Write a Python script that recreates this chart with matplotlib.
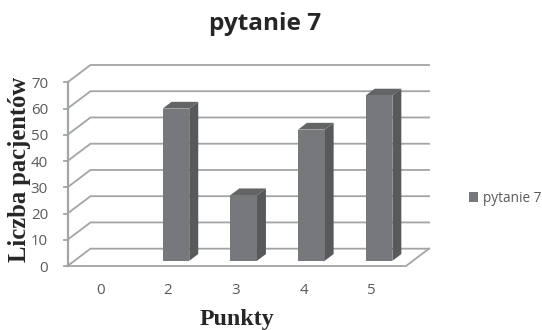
import matplotlib
matplotlib.use("Agg")
import matplotlib.pyplot as plt
from matplotlib.patches import Polygon
from matplotlib.transforms import ScaledTranslation

categories = ["0", "2", "3", "4", "5"]
values = [0, 58, 25, 50, 63]
y_ticks = [0, 10, 20, 30, 40, 50, 60, 70]
series_name = "pytanie 7"

W, H = 542, 330
FRONT = "#77787b"
SIDE = "#58595b"
TOP = "#636466"
GRID = "#a3a4a6"
TEXT = "#595959"

fig = plt.figure(figsize=(W / 100, H / 100), dpi=100)
ax = fig.add_axes([67.5 / W, 1 - 266 / H, (406 - 67.5) / W, (266 - 82.3) / H])
ax.set_xlim(-0.5, 4.5)
ax.set_ylim(0, 70)
ax.patch.set_visible(False)

# oblique projection of the depth direction, in data units
DX, DY = 0.34, 6.6
bar_w = 0.393
d0, d1 = 0.30, 0.69

x0, x1 = -0.5, 4.5
for t in y_ticks:
    ax.plot([x0, x0 + DX, x1 + DX], [t, t + DY, t + DY], color=GRID, lw=1.3,
            clip_on=False, zorder=1, solid_joinstyle="miter")
    ax.plot([x0 - 0.045, x0], [t, t], color=GRID, lw=1.3, clip_on=False, zorder=1)
ax.plot([x0, x1, x1 + DX], [0, 0, DY], color=GRID, lw=1.3, clip_on=False, zorder=2)
ax.plot([x0, x0], [0, 70], color=GRID, lw=1.6, clip_on=False, zorder=2)

for s in ax.spines.values():
    s.set_visible(False)

xs = list(range(len(categories)))
bars = ax.bar([x + d0 * DX for x in xs], values, width=bar_w,
              bottom=d0 * DY, color=FRONT, label=series_name, zorder=4, clip_on=False)
for b, v in zip(bars, values):
    if v == 0:
        continue
    l, r = b.get_x(), b.get_x() + b.get_width()
    base, top = b.get_y(), b.get_y() + b.get_height()
    ddx, ddy = (d1 - d0) * DX, (d1 - d0) * DY
    ax.add_patch(Polygon([(r, base), (r + ddx, base + ddy), (r + ddx, top + ddy), (r, top)],
                         closed=True, fc=SIDE, ec="none", zorder=3, clip_on=False))
    ax.add_patch(Polygon([(l, top), (l + ddx, top + ddy), (r + ddx, top + ddy), (r, top)],
                         closed=True, fc=TOP, ec="none", zorder=3, clip_on=False))

ax.set_xticks(xs, categories)
ax.set_yticks(y_ticks)
ax.tick_params(axis="both", length=0, labelsize=10.8, labelcolor=TEXT)
ax.tick_params(axis="x", pad=12)
ax.tick_params(axis="y", pad=14)
shift = ScaledTranslation(-1 / 100, 0, fig.dpi_scale_trans)
for lab in ax.get_xticklabels():
    lab.set_fontfamily("Open Sans")
    lab.set_transform(lab.get_transform() + shift)
for lab in ax.get_yticklabels():
    lab.set_fontfamily("Open Sans")

fig.text(265.5 / W, 1 - 24 / H, series_name, ha="center", va="center",
         fontfamily="Open Sans", fontweight="bold", fontsize=17.6, color="#262626")
fig.text(236.5 / W, 1 - 319 / H, "Punkty", ha="center", va="center",
         fontfamily="Liberation Serif", fontweight="bold", fontsize=17.3, color="#262626")
fig.text(19.5 / W, 1 - 169.5 / H, "Liczba pacjentów", ha="center", va="center", rotation=90,
         fontfamily="Liberation Serif", fontweight="bold", fontsize=17.7, color="#262626")

leg = ax.legend(handles=[bars], loc="center left", bbox_to_anchor=(468.5 / W, 1 - 198 / H),
                bbox_transform=fig.transFigure, frameon=False, handlelength=0.7, handleheight=0.7,
                handletextpad=0.35, borderpad=0, borderaxespad=0,
                prop={"family": "Open Sans", "size": 9.8}, labelcolor=TEXT)

fig.savefig("out.png", dpi=100)
